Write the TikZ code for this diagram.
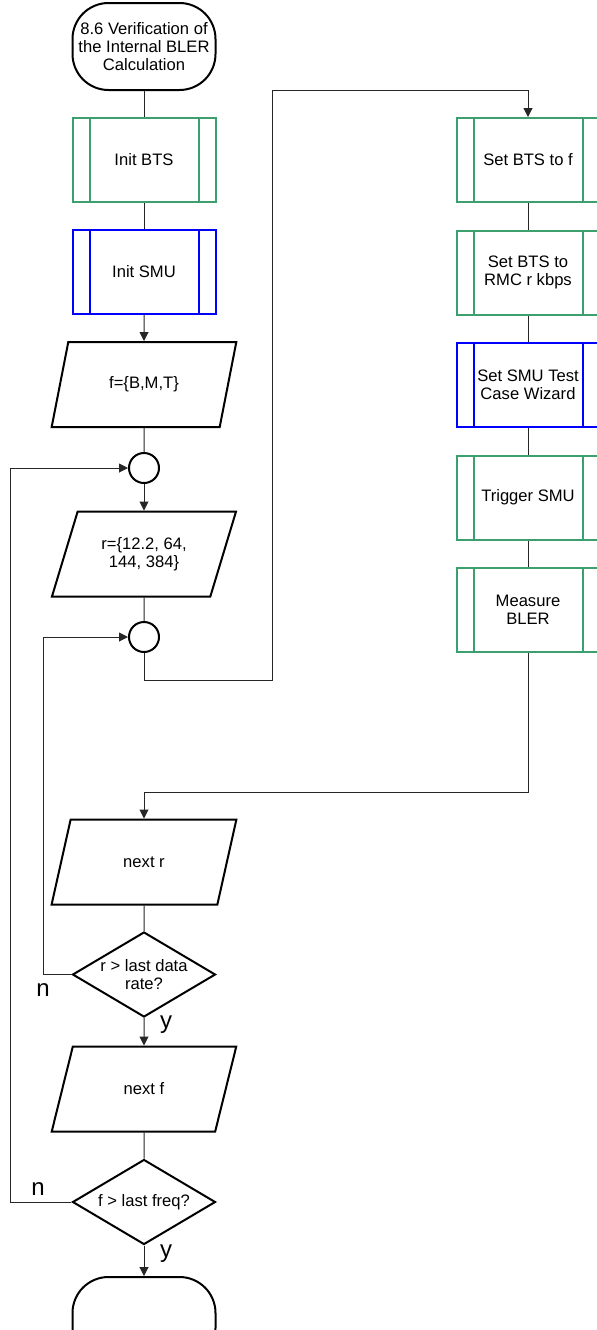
\documentclass[tikz,border=0pt]{standalone}
\usepackage{fontspec}
\setmainfont{Liberation Sans}
\usepackage{tikz}
\usetikzlibrary{arrows.meta,positioning,calc,shapes.geometric}
\definecolor{btsgreen}{RGB}{60,160,110}
\definecolor{smublue}{RGB}{0,0,255}
\tikzset{
  term/.style={draw,line width=1pt,rounded corners=18pt,minimum width=71.5pt,minimum height=43.5pt,inner sep=0pt},
  subproc/.style={draw=#1,line width=1pt,minimum width=71.5pt,minimum height=42pt,inner sep=0pt,
    path picture={\draw[#1,line width=1pt]
      ([xshift=8.5pt]path picture bounding box.north west) -- ([xshift=8.5pt]path picture bounding box.south west)
      ([xshift=-8.5pt]path picture bounding box.north east) -- ([xshift=-8.5pt]path picture bounding box.south east);}},
  inout/.style={trapezium,trapezium left angle=63.7,trapezium right angle=116.3,trapezium stretches=true,
    draw,line width=1pt,minimum width=92.5pt,minimum height=42.5pt,inner sep=0pt},
  decide/.style={diamond,aspect=1.68,draw,line width=1pt,minimum width=71.5pt,minimum height=42.5pt,inner sep=0pt},
  joint/.style={circle,draw,line width=1pt,minimum size=15pt,inner sep=0pt},
  conn/.style={line width=0.5pt,draw=black!85},
  yn/.style={font=\fontsize{12}{14}\selectfont}
}
\begin{document}
\begin{tikzpicture}[x=0.5pt,y=-0.5pt,font=\fontsize{8.3}{9}\selectfont,every node/.append style={align=center},
  >={Triangle[length=4.5pt,width=4.5pt]}]
  \useasboundingbox (0,0) rectangle (596,1330); % 画像の大きさに合わせた枠
  % 左の列
  \node[term] (start) at (144,46.5) {8.6 Verification of\\the Internal BLER\\Calculation};
  \node[subproc=btsgreen] (initbts) at (144,160) {Init BTS};
  \node[subproc=smublue] (initsmu) at (144,272) {Init SMU};
  \node[inout] (fset) at (144,384.5) {f=\{B,M,T\}};
  \node[joint] (joinf) at (144,468) {};
  \node[inout] (rset) at (144,554) {r=\{12.2, 64,\\144, 384\}};
  \node[joint] (joinr) at (144,637) {};
  % 右の列
  \node[subproc=btsgreen] (setf) at (528,160) {Set BTS to f};
  \node[subproc=btsgreen] (setrmc) at (528,272.5) {Set BTS to\\RMC r kbps};
  \node[subproc=smublue] (wizard) at (528,384.5) {Set SMU Test\\Case Wizard};
  \node[subproc=btsgreen] (trigger) at (528,497.5) {Trigger SMU};
  \node[subproc=btsgreen] (measure) at (528,609.5) {Measure\\BLER};
  % ループの終わり
  \node[inout] (nextr) at (144,862) {next r};
  \node[decide] (lastr) at (144,974.5) {r > last data\\rate?};
  \node[inout] (nextf) at (144,1089) {next f};
  \node[decide] (lastf) at (144,1202) {f > last freq?};
  \node[term] (stop) at (144,1320.5) {};
  \node[yn] (nr) at (43,990) {n};
  \node[yn] (yr) at (166,1025) {y};
  \node[yn] (nf) at (38,1189) {n};
  \node[yn] (yf) at (166,1254) {y};
  \coordinate (c1) at (272,680);
  \coordinate (c2) at (272,90);
  \coordinate (c3) at (144,792);
  \coordinate (c4) at (43,974.5);
  \coordinate (c5) at (10,1202);
  % 接続線
  \draw[conn] (start) -- (initbts) (initbts) -- (initsmu);
  \draw[conn,->] (initsmu) -- (fset);
  \draw[conn] (fset) -- (joinf);
  \draw[conn,->] (joinf) -- (rset);
  \draw[conn] (rset) -- (joinr);
  \draw[conn,->] (joinr) |- (c1) -- (c2) -| (setf); % 右の列へ
  \draw[conn] (setf) -- (setrmc) (setrmc) -- (wizard) (wizard) -- (trigger) (trigger) -- (measure);
  \draw[conn,->] (measure) |- (c3) -- (nextr); % 左の列へ戻る
  \draw[conn] (nextr) -- (lastr);
  \draw[conn,->] (lastr) -- (c4) |- (joinr); % n: 次のデータレート
  \draw[conn,->] (lastr) -- (nextf);
  \draw[conn] (nextf) -- (lastf);
  \draw[conn,->] (lastf) -- (c5) |- (joinf); % n: 次の周波数
  \draw[conn,->] (lastf) -- (stop);
\end{tikzpicture}
\end{document}
